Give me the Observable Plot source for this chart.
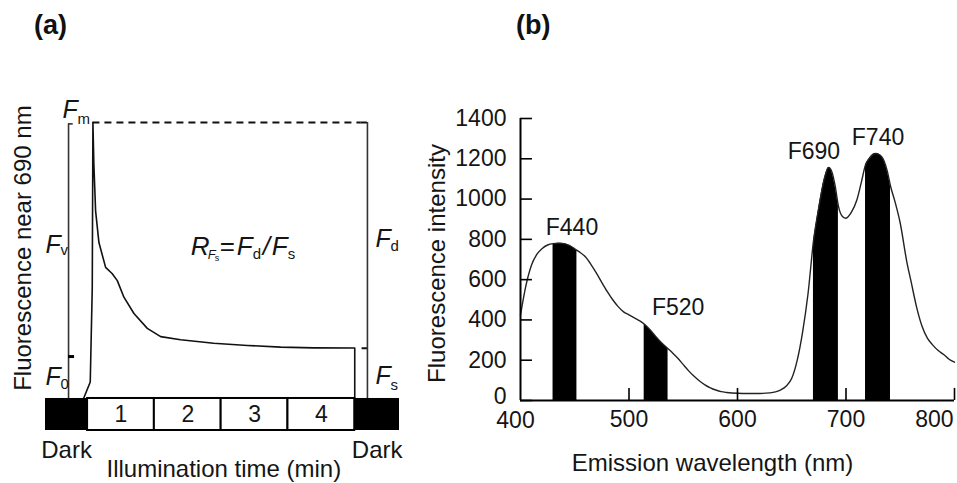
<!DOCTYPE html>
<html>
<head>
<meta charset="utf-8">
<script src="https://cdn.jsdelivr.net/npm/d3@7"></script>
<script src="https://cdn.jsdelivr.net/npm/@observablehq/plot@0.6"></script>
<style>
  html, body { margin: 0; padding: 0; background: #fff; }
  #root { position: relative; width: 957px; height: 483px; overflow: hidden;
          font-family: "Liberation Sans", Arial, Helvetica, sans-serif; color: #111; }
  .panel-label { position: absolute; top: 10px; font-weight: bold; font-size: 27px; color: #111; }
  #pa { position: absolute; top: 0; left: 0; width: 430px; }
  #pb { position: absolute; top: 0; left: 420px; width: 537px; }
</style>
</head>
<body>
<div id="root">
  <div class="panel-label" style="left:34px">(a)</div>
  <div class="panel-label" style="left:516px">(b)</div>
  <div id="pa"></div>
  <div id="pb"></div>
</div>
<script>
// ---------- Panel (a): fluorescence induction trace ----------
const traceTime  = [-0.06, 0.04, 0.07, 0.08, 0.094, 0.12, 0.17, 0.27, 0.37, 0.445, 0.544, 0.694, 0.894, 1.094, 1.393, 1.888, 2.393, 2.891, 3.386, 4.0, 4.0];
const traceValue = [0, 6, 40, 100, 85, 68, 56.5, 47.5, 45.2, 42.7, 36.7, 30.8, 25.4, 22.4, 21.3, 20.0, 19.2, 18.6, 18.35, 18.3, 0];
const Fm = 100, F0 = 15.2, Fs = 18.2;
const minuteLabels = ["1", "2", "3", "4"];
const minuteStart = [0, 1, 2, 3];
const minuteEnd = [1, 2, 3, 4];
const darkLabels = ["Dark", "Dark"];
const darkStart = [-0.63, 4.0];
const darkEnd = [0, 4.67];
const bracketLeftT = -0.285, bracketRightT = 4.19;

// ---------- Panel (b): emission spectrum ----------
const wavelength = [400,405,410,415,420,425,430,435,440,445,452,455,460,465,470,475,480,485,490,495,500,505,510,514,520,525,530,536,540,545,550,555,560,565,570,575,580,585,590,600,610,620,630,635,640,645,650,655,660,665,670,675,680,684,687,690,693,697,700,705,710,714,718,722,727,731,735,738,741,745,750,756,760,765,770,775,780,785,790,795,800];
const intensity  = [425,570,670,725,755,772,779,781,779,770,745,735,712,675,632,585,540,500,466,440,425,410,395,380,348,316,287,257,237,210,178,147,120,97,78,63,52,44,40,36,35,35,38,43,53,72,110,199,340,530,790,960,1100,1157,1135,1065,965,912,905,935,995,1080,1170,1205,1226,1220,1190,1140,1065,990,880,690,590,465,370,310,275,248,228,205,190];
const bandNames = ["F440", "F520", "F690", "F740"];
const bandStart = [430, 514, 670, 718];
const bandEnd   = [452, 536, 693, 741];
const yTicks = [0, 200, 400, 600, 800, 1000, 1200, 1400];
const xTicks = [400, 500, 600, 700, 800];

const FONT = '"Liberation Sans", Arial, Helvetica, sans-serif';
const INK = "#151515";

// ----- build panel (a)
const trace = traceTime.map((t, i) => ({t, v: traceValue[i]}));
const minutes = minuteLabels.map((label, i) => ({label, start: minuteStart[i], end: minuteEnd[i]}));
const darks = darkLabels.map((label, i) => ({label, start: darkStart[i], end: darkEnd[i]}));
const boxBottom = -11.6;

function italicF(xT, yV, dx, dy, sub, subDx, subDy) {
  return [
    Plot.text(["F"], {x: xT, y: yV, dx, dy, text: d => d, fontStyle: "italic", fontSize: 25, textAnchor: "start", fill: INK}),
    Plot.text([sub], {x: xT, y: yV, dx: dx + subDx, dy: dy + subDy, text: d => d, fontSize: 15, textAnchor: "start", fill: INK})
  ];
}

const fx = 1.543, fy = 55;  // anchor of the ratio formula
const pa = Plot.plot({
  width: 430, height: 483,
  marginLeft: 45, marginRight: 31, marginTop: 122, marginBottom: 53,
  x: {domain: [-0.63, 4.67], axis: null},
  y: {domain: [boxBottom, 100], axis: null},
  style: {fontFamily: FONT, fontSize: "24px", background: "none", color: INK},
  marks: [
    // brackets and reference levels
    Plot.ruleX([bracketLeftT], {y1: 0, y2: 99.5, stroke: "#333", strokeWidth: 1.6}),
    Plot.ruleY([99.5], {x1: bracketLeftT, x2: bracketLeftT + 0.07, stroke: "#333", strokeWidth: 1.6}),
    Plot.ruleY([F0], {x1: bracketLeftT, x2: bracketLeftT + 0.09, stroke: "#000", strokeWidth: 3}),
    Plot.ruleY([Fm], {x1: 0.08, x2: bracketRightT - 0.1, stroke: "#111", strokeWidth: 2, strokeDasharray: "7,5"}),
    Plot.ruleY([Fm], {x1: bracketRightT - 0.1, x2: bracketRightT, stroke: "#111", strokeWidth: 2}),
    Plot.ruleX([bracketRightT], {y1: 0, y2: Fm, stroke: "#333", strokeWidth: 1.6}),
    Plot.ruleY([Fs], {x1: bracketRightT - 0.08, x2: bracketRightT, stroke: "#111", strokeWidth: 2}),
    // the trace
    Plot.line(trace, {x: "t", y: "v", stroke: "#111", strokeWidth: 1.6}),
    // time bar
    Plot.rect(darks, {x1: "start", x2: "end", y1: boxBottom, y2: 0, fill: "#000"}),
    Plot.rect(minutes, {x1: "start", x2: "end", y1: boxBottom, y2: 0, fill: "#fff", stroke: "#000", strokeWidth: 2}),
    Plot.text(minutes, {x: d => (d.start + d.end) / 2, y: boxBottom / 2, text: "label", fontSize: 23, fill: INK}),
    Plot.text(darks, {x: d => (d.start + d.end) / 2, y: boxBottom, dy: 20, text: "label", fontSize: 24, fill: INK}),
    Plot.text(["Illumination time (min)"], {x: 2.04, y: boxBottom, dy: 39, text: d => d, fontSize: 24, fill: INK}),
    Plot.text(["Fluorescence near 690 nm"], {x: -0.96, y: 54.5, rotate: -90, text: d => d, fontSize: 24, fill: INK}),
    // F labels
    ...italicF(bracketLeftT, Fm, -6, -13, "m", 15, 10),
    ...italicF(bracketLeftT, (Fm + F0) / 2, -23, 5, "v", 15, 6),
    ...italicF(bracketLeftT, F0, -23, 20, "0", 15, 8),
    ...italicF(bracketRightT, (Fm + Fs) / 2, 8, 4, "d", 15, 7),
    ...italicF(bracketRightT, Fs / 2, 8, 3, "s", 15, 9),
    // formula R_Fs = F_d / F_s
    Plot.text(["R"], {x: fx, y: fy, text: d => d, fontStyle: "italic", fontSize: 26, textAnchor: "start", fill: INK}),
    Plot.text(["F"], {x: fx, y: fy, dx: 17, dy: 8, text: d => d, fontStyle: "italic", fontSize: 13, textAnchor: "start", fill: INK}),
    Plot.text(["s"], {x: fx, y: fy, dx: 24, dy: 11, text: d => d, fontSize: 9, textAnchor: "start", fill: INK}),
    Plot.text(["="], {x: fx, y: fy, dx: 29, text: d => d, fontSize: 26, textAnchor: "start", fill: INK}),
    Plot.text(["F"], {x: fx, y: fy, dx: 46, text: d => d, fontStyle: "italic", fontSize: 26, textAnchor: "start", fill: INK}),
    Plot.text(["d"], {x: fx, y: fy, dx: 62, dy: 7, text: d => d, fontSize: 15, textAnchor: "start", fill: INK}),
    Plot.text(["/"], {x: fx, y: fy, dx: 72, text: d => d, fontStyle: "italic", fontSize: 26, textAnchor: "start", fill: INK}),
    Plot.text(["F"], {x: fx, y: fy, dx: 81, text: d => d, fontStyle: "italic", fontSize: 26, textAnchor: "start", fill: INK}),
    Plot.text(["s"], {x: fx, y: fy, dx: 97, dy: 7, text: d => d, fontSize: 15, textAnchor: "start", fill: INK})
  ]
});
document.getElementById("pa").append(pa);

// ----- build panel (b)
const spectrum = wavelength.map((w, i) => ({w, v: intensity[i]}));
const bands = bandNames.map((name, i) => ({name, start: bandStart[i], end: bandEnd[i]}));
const bandLabelDx = [7, 22, -12, 0];

const pb = Plot.plot({
  width: 537, height: 483,
  marginLeft: 100, marginRight: 3, marginTop: 118, marginBottom: 83,
  x: {domain: [400, 800], axis: null},
  y: {domain: [0, 1400], axis: null},
  style: {fontFamily: FONT, fontSize: "23px", background: "none", color: INK},
  marks: [
    ...bands.map(b => Plot.areaY(spectrum.filter(d => d.w >= b.start && d.w <= b.end),
      {x: "w", y: "v", fill: "#000", curve: "monotone-x"})),
    Plot.line(spectrum, {x: "w", y: "v", stroke: "#222", strokeWidth: 1.4, curve: "monotone-x"}),
    // axes
    Plot.ruleY([0], {x1: 400, x2: 800, stroke: "#000", strokeWidth: 2}),
    Plot.ruleX([400], {y1: 0, y2: 1400, stroke: "#000", strokeWidth: 2}),
    Plot.ruleY(yTicks, {x1: 400, x2: 411, stroke: "#000", strokeWidth: 1.6}),
    Plot.ruleX(xTicks.slice(1), {y1: 0, y2: 60, stroke: "#000", strokeWidth: 1.6}),
    Plot.text(yTicks.slice(0, 1), {x: 400, y: d => d, dx: -14, dy: -4, textAnchor: "end", text: d => String(d), fontSize: 23, fill: INK}),
    Plot.text(yTicks.slice(1), {x: 400, y: d => d, dx: -14, textAnchor: "end", text: d => String(d), fontSize: 23, fill: INK}),
    Plot.text(xTicks.slice(0, 1), {x: d => d, y: 0, dx: -5, dy: 20, text: d => String(d), fontSize: 23, fill: INK}),
    Plot.text(xTicks.slice(1, 4), {x: d => d, y: 0, dy: 19, text: d => String(d), fontSize: 23, fill: INK}),
    Plot.text(xTicks.slice(4), {x: d => d, y: 0, dx: -1, dy: 19, textAnchor: "end", text: d => String(d), fontSize: 23, fill: INK}),
    Plot.text(["Fluorescence intensity"], {frameAnchor: "left", dx: -83, dy: 4, rotate: -90, textAnchor: "middle", text: d => d, fontSize: 24, fill: INK}),
    Plot.text(["Emission wavelength (nm)"], {frameAnchor: "bottom", dx: -25, dy: 70, textAnchor: "middle", text: d => d, fontSize: 24, fill: INK}),
    // band labels
    ...bands.map((b, i) => {
      const peak = d3.max(spectrum.filter(d => d.w >= b.start && d.w <= b.end), d => d.v);
      return Plot.text([b], {x: d => (d.start + d.end) / 2, y: () => peak, dx: bandLabelDx[i], dy: -16,
        text: "name", fontSize: 23, fill: INK});
    })
  ]
});
document.getElementById("pb").append(pb);
</script>
</body>
</html>
